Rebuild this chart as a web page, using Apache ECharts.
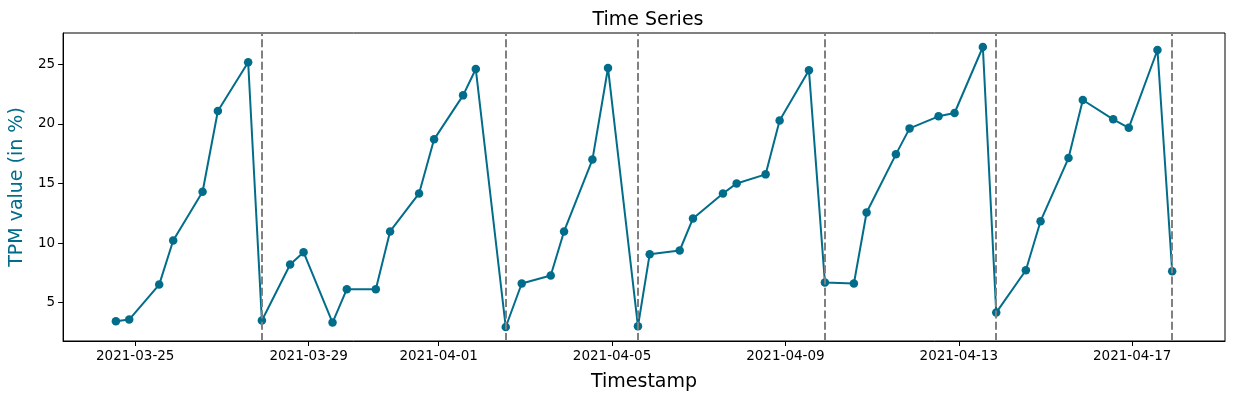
<!DOCTYPE html>
<html>
<head>
<meta charset="utf-8">
<script src="https://cdn.jsdelivr.net/npm/echarts@6/dist/echarts.min.js"></script>
<style>
html,body{margin:0;padding:0;background:#fff;}
#chart{width:1234px;height:399px;}
</style>
</head>
<body>
<div id="chart"></div>
<script>
// ---- data ----
const timestamps = [
  '2021-03-24 13:18','2021-03-24 20:40','2021-03-25 13:17','2021-03-25 21:02','2021-03-26 13:18',
  '2021-03-26 21:46','2021-03-27 14:32','2021-03-27 22:08','2021-03-28 13:47','2021-03-28 21:12',
  '2021-03-29 13:15','2021-03-29 21:10','2021-03-30 13:13','2021-03-30 21:07','2021-03-31 13:10',
  '2021-03-31 21:29','2021-04-01 13:32','2021-04-01 20:34','2021-04-02 13:09','2021-04-02 22:00',
  '2021-04-03 14:04','2021-04-03 21:26','2021-04-04 13:09','2021-04-04 21:46','2021-04-05 14:22',
  '2021-04-05 20:51','2021-04-06 13:28','2021-04-06 20:50','2021-04-07 13:25','2021-04-07 21:00',
  '2021-04-08 13:03','2021-04-08 20:48','2021-04-09 13:02','2021-04-09 21:52','2021-04-10 13:55',
  '2021-04-10 20:57','2021-04-11 13:11','2021-04-11 20:45','2021-04-12 12:47','2021-04-12 21:39',
  '2021-04-13 13:19','2021-04-13 20:44','2021-04-14 13:08','2021-04-14 21:16','2021-04-15 12:45',
  '2021-04-15 20:40','2021-04-16 13:29','2021-04-16 22:07','2021-04-17 14:00','2021-04-17 22:09'
];
const tpmValues = [
  3.43, 3.57, 6.51, 10.21, 14.30,
  21.08, 25.17, 3.49, 8.19, 9.23,
  3.32, 6.12, 6.12, 10.97, 14.16,
  18.70, 22.39, 24.60, 2.95, 6.60,
  7.27, 10.97, 17.00, 24.69, 3.01,
  9.06, 9.37, 12.06, 14.16, 15.00,
  15.76, 20.29, 24.49, 6.68, 6.60,
  12.56, 17.44, 19.62, 20.63, 20.91,
  26.45, 4.16, 7.71, 11.83, 17.13,
  22.00, 20.38, 19.67, 26.20, 7.63
];
const resetTimes = [
  '2021-03-27 22:08','2021-04-02 13:09','2021-04-05 14:22',
  '2021-04-09 21:52','2021-04-13 20:44','2021-04-17 22:09'
];
const xTickLabels = ['2021-03-25','2021-03-29','2021-04-01','2021-04-05','2021-04-09','2021-04-13','2021-04-17'];
const yTickValues = [5, 10, 15, 20, 25];

// ---- helpers ----
function parseTime(s) {
  const parts = s.split(' ');
  const d = parts[0].split('-').map(Number);
  const t = (parts[1] || '00:00').split(':').map(Number);
  return new Date(d[0], d[1] - 1, d[2], t[0], t[1]).getTime();
}
function fmtDate(v) {
  const d = new Date(v);
  const p = n => (n < 10 ? '0' : '') + n;
  return d.getFullYear() + '-' + p(d.getMonth() + 1) + '-' + p(d.getDate());
}

const xs = timestamps.map(parseTime);
const seriesData = xs.map((x, i) => [x, tpmValues[i]]);
const xPad = (Math.max(...xs) - Math.min(...xs)) * 0.05;
const yPad = (Math.max(...tpmValues) - Math.min(...tpmValues)) * 0.05;
const xMin = Math.min(...xs) - xPad, xMax = Math.max(...xs) + xPad;
const yMin = Math.min(...tpmValues) - yPad, yMax = Math.max(...tpmValues) + yPad;
const xTickValues = xTickLabels.map(s => parseTime(s + ' 00:00'));

const TEAL = '#026d8a';
const FONT = 'DejaVu Sans';

const chart = echarts.init(document.getElementById('chart'), null, {renderer: 'canvas'});
chart.setOption({
  animation: false,
  backgroundColor: '#ffffff',
  textStyle: {fontFamily: FONT},
  title: {
    text: 'Time Series',
    left: 643, top: 6, textAlign: 'center',
    textStyle: {fontFamily: FONT, fontSize: 19, fontWeight: 'normal', color: '#000'}
  },
  grid: {
    left: 62, right: 9, top: 33, bottom: 58,
    show: true, borderColor: '#000', borderWidth: 1, backgroundColor: 'transparent'
  },
  xAxis: {
    type: 'value',
    min: xMin, max: xMax,
    scale: true,
    name: 'Timestamp', nameLocation: 'middle', nameGap: 32,
    nameTextStyle: {fontFamily: FONT, fontSize: 19, color: '#000'},
    axisLine: {show: true, onZero: false, lineStyle: {color: '#000', width: 1}},
    axisTick: {show: true, length: 5, customValues: xTickValues, lineStyle: {color: '#000', width: 1}},
    axisLabel: {
      customValues: xTickValues, margin: 8,
      fontFamily: FONT, fontSize: 13.5, color: '#000',
      formatter: v => fmtDate(v)
    },
    splitLine: {show: false}
  },
  yAxis: {
    type: 'value',
    min: yMin, max: yMax,
    name: 'TPM value (in %)', nameLocation: 'middle', nameGap: 34,
    nameTextStyle: {fontFamily: FONT, fontSize: 19, color: TEAL},
    axisLine: {show: true, onZero: false, lineStyle: {color: '#000', width: 1}},
    axisTick: {show: true, length: 5, customValues: yTickValues, lineStyle: {color: '#000', width: 1}},
    axisLabel: {
      customValues: yTickValues, margin: 8,
      fontFamily: FONT, fontSize: 13.5, color: '#000'
    },
    splitLine: {show: false}
  },
  series: [{
    type: 'line',
    data: seriesData,
    symbol: 'circle', symbolSize: 8.5, showAllSymbol: true,
    itemStyle: {color: TEAL, borderWidth: 0},
    lineStyle: {color: TEAL, width: 2},
    z: 3,
    markLine: {
      silent: true, symbol: 'none',
      label: {show: false},
      lineStyle: {color: '#808080', width: 2, type: [8, 3.3]},
      data: resetTimes.map(t => ({xAxis: parseTime(t)}))
    }
  }]
});
</script>
</body>
</html>
